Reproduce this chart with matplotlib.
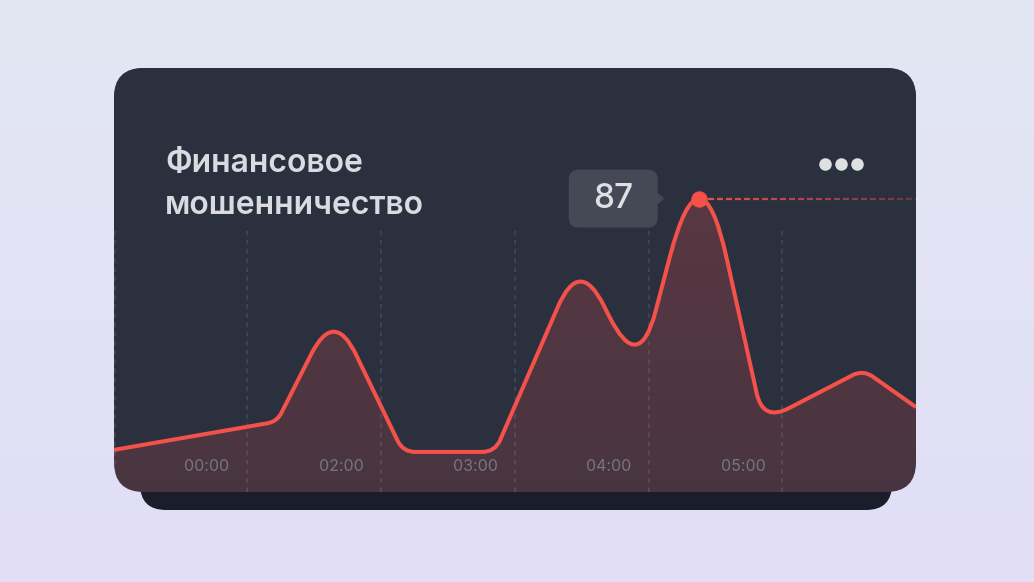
import numpy as np
import matplotlib.pyplot as plt
from matplotlib.patches import FancyBboxPatch, PathPatch, Polygon
from matplotlib.path import Path
from matplotlib.collections import LineCollection
from matplotlib.colors import to_rgb

plt.rcParams['font.family'] = ['Inter', 'DejaVu Sans']

# ---- data ----
hours = ['00:00', '02:00', '03:00', '04:00', '05:00']
hour_pos = [0, 1, 2, 3, 4]
grid_pos = [-0.69, 0.3, 1.3, 2.3, 3.3, 4.29]
x_vals = [-0.694, 0.522, 0.948, 1.463, 2.149, 2.78, 3.222, 3.682, 4.149, 4.896, 5.291]
y_vals = [12.5, 20.9, 54.3, 11.9, 11.9, 69.8, 34.6, 104.5, 20.9, 36.3, 25.2]
peak_idx = 7
peak_label = '87'
title_lines = ['Финансовое', 'мошенничество']

RED = '#f4514a'
CARD = '#2b303f'
W, H = 1034, 582

fig = plt.figure(figsize=(W / 100, H / 100), dpi=100)

# background in pixel coords
bg = fig.add_axes([0, 0, 1, 1])
bg.set_xlim(0, W)
bg.set_ylim(H, 0)
bg.axis('off')
c_top = np.array(to_rgb('#e3e7f3'))
c_bot = np.array(to_rgb('#e1def6'))
t = np.linspace(0, 1, 256).reshape(-1, 1, 1)
bg.imshow(c_top * (1 - t) + c_bot * t, extent=[0, W, H, 0], aspect='auto', zorder=0)

slab = FancyBboxPatch((140, 420), 752, 90, boxstyle='round,pad=0,rounding_size=26',
                      facecolor='#1a1e2b', edgecolor='none', zorder=1)
bg.add_patch(slab)
card = FancyBboxPatch((114, 68), 802, 424, boxstyle='round,pad=0,rounding_size=30',
                      facecolor=CARD, edgecolor='none', zorder=2)
bg.add_patch(card)

# chart area = card
ax = fig.add_axes([114 / W, 1 - 492 / H, 802 / W, 424 / H])
ax.set_xlim(-0.694, 5.291)
ax.set_ylim(0, 125.9)
ax.axis('off')


def rounded(ax, xs, ys, r=18):
    pts = ax.transData.transform(np.column_stack([xs, ys]))
    verts = [pts[0]]
    codes = [Path.MOVETO]
    apexes = {}
    for i in range(1, len(pts) - 1):
        p0, v, p2 = pts[i - 1], pts[i], pts[i + 1]
        a = p0 - v
        b = p2 - v
        la, lb = np.hypot(*a), np.hypot(*b)
        h = np.arccos(np.clip(np.dot(a, b) / (la * lb), -1, 1)) / 2
        d = 2 * r * (1 / np.sin(h) - 1) / np.cos(h)
        d = min(d, 0.5 * la, 0.5 * lb)
        q0 = v + a / la * d
        q2 = v + b / lb * d
        verts += [q0, v, q2]
        codes += [Path.LINETO, Path.CURVE3, Path.CURVE3]
        apexes[i] = 0.25 * q0 + 0.5 * v + 0.25 * q2
    verts.append(pts[-1])
    codes.append(Path.LINETO)
    inv = ax.transData.inverted()
    return np.array(inv.transform(np.array(verts))), codes, apexes


verts, codes, apexes = rounded(ax, x_vals, y_vals)
line_path = Path(verts, codes)

# gradient fill under the curve: fill the card, then cover the part above
alpha = np.linspace(0.15, 0.265, 200)
rgba = np.zeros((200, 1, 4))
rgba[..., :3] = to_rgb(RED)
rgba[..., 3] = alpha.reshape(-1, 1)
im = ax.imshow(rgba, extent=[-0.694, 5.291, 0, 125.9], origin='lower', aspect='auto', zorder=1)
im.set_clip_path(card)

top_y = 130
cover_verts = np.vstack([verts, [[x_vals[-1], top_y], [x_vals[0], top_y], verts[0]]])
cover_codes = codes + [Path.LINETO, Path.LINETO, Path.CLOSEPOLY]
cover = PathPatch(Path(cover_verts, cover_codes), facecolor=CARD, edgecolor='none', zorder=2)
ax.add_patch(cover)
cover.set_clip_path(card)

# dashed verticals
for gx in grid_pos:
    gl, = ax.plot([gx, gx], [0, 77.8], color='white', alpha=0.12, lw=1.1,
                  dashes=(3, 3), zorder=3)
    gl.set_clip_path(card)

# line
lp = PathPatch(line_path, facecolor='none', edgecolor=RED, lw=2.9,
               capstyle='butt', joinstyle='round', zorder=4)
ax.add_patch(lp)
lp.set_clip_path(card)

# tick labels
for xp, lab in zip(hour_pos, hours):
    ax.text(xp, 7.7, lab, ha='center', va='center', fontsize=11.5,
            color='#757684', fontweight='normal', zorder=5)

# peak dot and dashed guide
apx, apy = apexes[peak_idx]
dot = ax.transData.inverted().transform([[apx, apy]])[0]
ax.plot(dot[0], dot[1], 'o', ms=10.8, color=RED, zorder=6)

right_edge = ax.transData.transform([[5.291, 0]])[0][0]
segs = []
cols = []
xs = np.arange(apx + 9, right_edge, 9)
inv = ax.transData.inverted()
for i, x0 in enumerate(xs):
    p = inv.transform([[x0, apy], [min(x0 + 6, right_edge), apy]])
    segs.append(p)
    f = i / max(len(xs) - 1, 1)
    cols.append((*to_rgb(RED), 0.95 - 0.65 * f))
lc = LineCollection(segs, colors=cols, linewidths=1.6, zorder=5)
ax.add_collection(lc)
lc.set_clip_path(card)

# overlay for text in pixel coords
top = fig.add_axes([0, 0, 1, 1])
top.set_xlim(0, W)
top.set_ylim(H, 0)
top.axis('off')

for k, line in enumerate(title_lines):
    top.text(165, 172 + 42 * k, line, ha='left', va='baseline', fontsize=23,
             fontweight='semibold', color='#dadbe0')

dpx, dpy = top.transData.inverted().transform([[apx, apy]])[0]
cx = dpx - 86
box = FancyBboxPatch((cx - 44.5, dpy - 29), 89, 58, boxstyle='round,pad=0,rounding_size=10',
                     facecolor='#454956', edgecolor='none')
top.add_patch(box)
top.add_patch(Polygon([[cx + 44, dpy - 6], [cx + 51, dpy], [cx + 44, dpy + 6]],
                      closed=True, facecolor='#454956', edgecolor='none'))
top.text(cx, dpy, peak_label, ha='center', va='center', fontsize=24, fontweight='medium',
         color='#e0e0e4')

top.plot([824.5, 840.5, 856.5], [164, 164, 164], 'o', ms=8, color='#dfe0e3')

fig.savefig('out.png', dpi=100)
